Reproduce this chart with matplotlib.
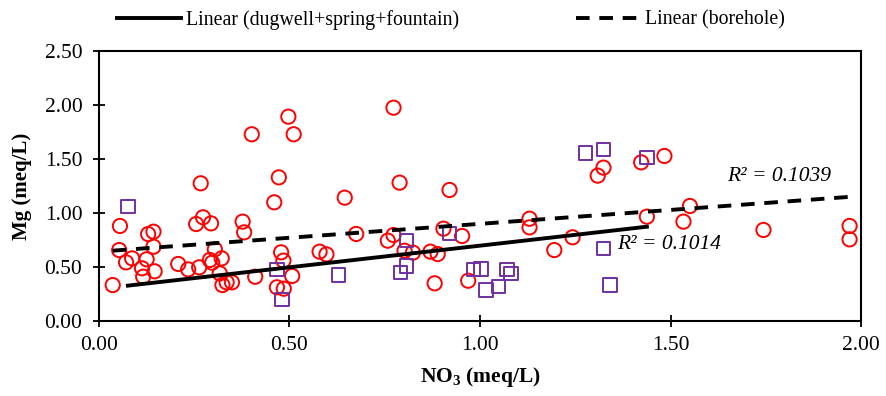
import numpy as np
import matplotlib.pyplot as plt

# dugwell + spring + fountain samples (red circles)
circle_no3 = [0.036, 0.055, 0.053, 0.071, 0.087, 0.113, 0.116, 0.125, 0.129, 0.143,
              0.143, 0.146, 0.208, 0.234, 0.263, 0.255, 0.273, 0.294, 0.267, 0.291,
              0.297, 0.304, 0.322, 0.317, 0.324, 0.335, 0.349, 0.377, 0.381, 0.401,
              0.410, 0.460, 0.472, 0.478, 0.484, 0.467, 0.485, 0.497, 0.511, 0.507,
              0.579, 0.597, 0.645, 0.675, 0.773, 0.789, 0.758, 0.773, 0.802, 0.824,
              0.870, 0.889, 0.881, 0.904, 0.920, 0.953, 0.969, 1.130, 1.130, 1.195,
              1.243, 1.309, 1.324, 1.423, 1.484, 1.438, 1.551, 1.534, 1.744, 1.970,
              1.970]
circle_mg = [0.333, 0.880, 0.657, 0.543, 0.580, 0.488, 0.410, 0.571, 0.805, 0.827,
             0.688, 0.460, 0.528, 0.478, 0.497, 0.898, 0.960, 0.904, 1.275, 0.565,
             0.540, 0.664, 0.580, 0.441, 0.333, 0.358, 0.358, 0.920, 0.821, 1.729,
             0.410, 1.099, 1.330, 0.636, 0.559, 0.312, 0.299, 1.892, 1.729, 0.417,
             0.642, 0.617, 1.142, 0.806, 1.975, 1.281, 0.744, 0.796, 0.651, 0.633,
             0.642, 0.620, 0.349, 0.855, 1.213, 0.787, 0.373, 0.947, 0.867, 0.657,
             0.775, 1.346, 1.420, 1.469, 1.528, 0.966, 1.065, 0.920, 0.843, 0.880,
             0.756]

# borehole samples (purple squares)
square_no3 = [0.076, 0.467, 0.480, 0.629, 0.807, 0.807, 0.791, 0.920, 0.983, 1.003,
              1.016, 1.049, 1.071, 1.082, 1.277, 1.324, 1.324, 1.341, 1.438]
square_mg = [1.059, 0.478, 0.200, 0.426, 0.744, 0.509, 0.447, 0.812, 0.478, 0.481,
             0.287, 0.318, 0.478, 0.441, 1.558, 1.590, 0.673, 0.333, 1.512]

# trend lines as shown (slope, intercept)
trend_solid = [0.4006, 0.297]
trend_dashed = [0.2576, 0.642]

plt.rcParams['font.family'] = 'Liberation Serif'
plt.rcParams['mathtext.default'] = 'regular'

fig = plt.figure(figsize=(8.87, 3.96), dpi=100)
ax = fig.add_axes([0.1116, 0.1894, 0.8591, 0.6818])

ax.scatter(circle_no3, circle_mg, s=105, facecolors='none', edgecolors='#ff0000',
           linewidths=1.4, zorder=3)
ax.scatter(square_no3, square_mg, s=95, marker='s', facecolors='none',
           edgecolors='#7030a0', linewidths=1.4, zorder=3)

xs = np.array([min(square_no3), max(square_no3)])
ax.plot(xs, trend_solid[0] * xs + trend_solid[1], color='black', lw=2.8,
        label='Linear (dugwell+spring+fountain)', zorder=4)
xd = np.array([min(circle_no3), max(circle_no3)])
ax.plot(xd, trend_dashed[0] * xd + trend_dashed[1], color='black', lw=2.8,
        ls=(0, (3.5, 2.5)), label='Linear (borehole)', zorder=4)

ax.text(1.649, 1.336, 'R² = 0.1039', fontsize=15.5, style='italic', va='center')
ax.text(1.361, 0.704, 'R² = 0.1014', fontsize=15.5, style='italic', va='center')

ax.set_xlim(0, 2.0)
ax.set_ylim(0, 2.5)
ax.set_xticks(np.arange(0, 2.01, 0.5))
ax.set_yticks(np.arange(0, 2.51, 0.5))
ax.set_xticklabels([f'{v:.2f}' for v in np.arange(0, 2.01, 0.5)])
ax.set_yticklabels([f'{v:.2f}' for v in np.arange(0, 2.51, 0.5)])
ax.tick_params(direction='inout', length=8, width=1.3, labelsize=15.5)
ax.tick_params(axis='y', pad=8)
ax.tick_params(axis='x', pad=7)
for sp in ax.spines.values():
    sp.set_linewidth(1.5)

ax.set_xlabel('NO$_3$ (meq/L)', fontsize=15.5, fontweight='bold', labelpad=7)
ax.set_ylabel('Mg (meq/L)', fontsize=15, fontweight='bold', labelpad=9)

ax.legend(loc='center', bbox_to_anchor=(0.462, 1.115), ncol=2, frameon=False,
          fontsize=14.3, handlelength=3.2, columnspacing=5.9, handletextpad=0.25)

fig.savefig('out.png', dpi=100)
